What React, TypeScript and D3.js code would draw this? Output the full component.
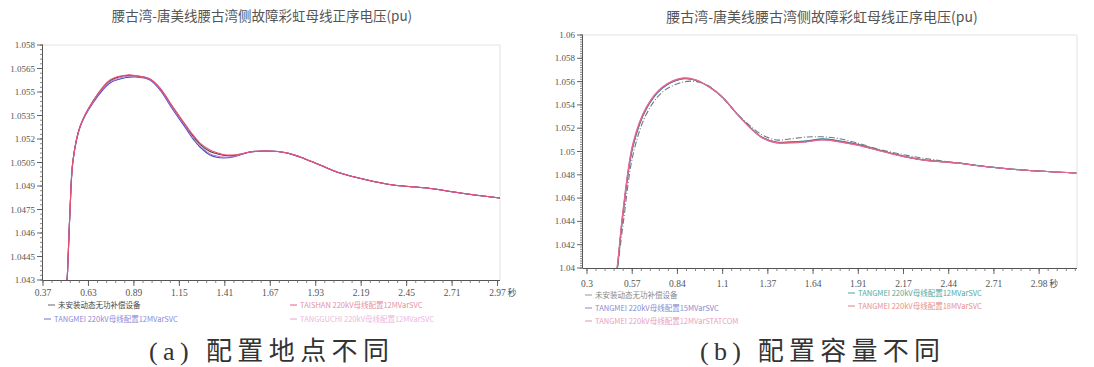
import React from 'react';
import * as d3 from 'd3';

const TITLE = '腰古湾-唐美线腰古湾侧故障彩虹母线正序电压(pu)';

// ---------- Chart (a) data ----------
const A_TIME = [0.495, 0.507, 0.513, 0.524, 0.542, 0.582, 0.656, 0.753, 0.851, 0.896, 0.982, 1.039, 1.114, 1.194, 1.228, 1.268, 1.325, 1.370, 1.400, 1.457, 1.497, 1.554, 1.651, 1.766, 1.840, 1.954, 2.069, 2.224, 2.372, 2.567, 2.756, 2.984];
const A_NONE = [1.04236, 1.0430, 1.04428, 1.04728, 1.05066, 1.0528, 1.05440, 1.05572, 1.05605, 1.05603, 1.05582, 1.05522, 1.05398, 1.05270, 1.05218, 1.05166, 1.05120, 1.05104, 1.05096, 1.05094, 1.05102, 1.05117, 1.05123, 1.05111, 1.05085, 1.05034, 1.04983, 1.04938, 1.04906, 1.04887, 1.04855, 1.04823];
const A_TANGMEI = [1.04236, 1.0430, 1.04428, 1.04728, 1.05066, 1.05277, 1.05430, 1.05557, 1.05593, 1.05596, 1.05577, 1.05513, 1.05385, 1.05257, 1.05200, 1.05149, 1.05098, 1.05082, 1.05079, 1.05085, 1.05098, 1.05117, 1.05123, 1.05111, 1.05085, 1.05034, 1.04983, 1.04938, 1.04906, 1.04887, 1.04855, 1.04823];
const A_TAISHAN = [1.04236, 1.0430, 1.04428, 1.04728, 1.05066, 1.05280, 1.05443, 1.05577, 1.05609, 1.05605, 1.05583, 1.05526, 1.05404, 1.05277, 1.05226, 1.05174, 1.05130, 1.05111, 1.05101, 1.05098, 1.05104, 1.05117, 1.05123, 1.05111, 1.05085, 1.05034, 1.04983, 1.04938, 1.04906, 1.04887, 1.04855, 1.04823];
const A_TANGGUCHI = [1.04236, 1.0430, 1.0443, 1.0473, 1.05068, 1.05279, 1.05435, 1.05565, 1.05600, 1.05600, 1.05580, 1.05518, 1.05392, 1.05265, 1.05208, 1.05158, 1.05106, 1.05090, 1.05085, 1.05088, 1.05100, 1.05118, 1.05124, 1.05112, 1.05086, 1.05035, 1.04984, 1.04939, 1.04907, 1.04887, 1.04856, 1.04823];
const A_XTICKS = [0.37, 0.63, 0.89, 1.15, 1.41, 1.67, 1.93, 2.19, 2.45, 2.71, 2.97];
const A_XLABELS = ['0.37', '0.63', '0.89', '1.15', '1.41', '1.67', '1.93', '2.19', '2.45', '2.71', '2.97'];
const A_YTICKS = [1.043, 1.0445, 1.046, 1.0475, 1.049, 1.0505, 1.052, 1.0535, 1.055, 1.0565, 1.058];
const A_YLABELS = ['1.043', '1.0445', '1.046', '1.0475', '1.049', '1.0505', '1.052', '1.0535', '1.055', '1.0565', '1.058'];
const A_NAMES = ['未安装动态无功补偿设备', 'TANGMEI 220kV母线配置12MVarSVC', 'TAISHAN 220kV母线配置12MVarSVC', 'TANGGUCHI 220kV母线配置12MVarSVC'];

// ---------- Chart (b) data ----------
const B_TIME = [0.46, 0.4775, 0.513, 0.572, 0.651, 0.746, 0.864, 0.947, 1.024, 1.101, 1.183, 1.260, 1.337, 1.420, 1.497, 1.598, 1.692, 1.793, 1.893, 2.012, 2.130, 2.284, 2.485, 2.680, 2.876, 3.195];
const B_NONE = [1.0382, 1.0397, 1.0437, 1.0497, 1.0532, 1.0551, 1.05595, 1.05600, 1.05560, 1.05462, 1.05330, 1.05227, 1.05142, 1.05099, 1.05107, 1.05124, 1.05126, 1.05110, 1.05075, 1.05025, 1.04985, 1.04944, 1.04903, 1.04868, 1.04841, 1.04815];
const B_SVC15 = [1.0383, 1.0398, 1.04470, 1.05050, 1.05370, 1.05546, 1.05625, 1.05611, 1.05553, 1.05467, 1.05331, 1.05213, 1.05120, 1.05079, 1.05079, 1.05088, 1.05104, 1.05088, 1.05061, 1.05017, 1.04973, 1.04929, 1.04902, 1.04867, 1.04841, 1.04815];
const B_STATCOM = [1.0385, 1.0400, 1.04498, 1.05073, 1.05382, 1.05554, 1.05631, 1.05614, 1.05554, 1.05468, 1.05330, 1.05210, 1.05116, 1.05073, 1.05073, 1.05082, 1.05099, 1.05082, 1.05056, 1.05013, 1.04970, 1.04927, 1.04901, 1.04867, 1.04841, 1.04815];
const B_SVC12 = [1.0382, 1.0397, 1.04460, 1.05040, 1.05365, 1.05543, 1.05622, 1.05610, 1.05553, 1.05466, 1.05331, 1.05215, 1.05123, 1.05082, 1.05083, 1.05092, 1.05108, 1.05091, 1.05064, 1.05019, 1.04975, 1.04930, 1.04903, 1.04868, 1.04841, 1.04815];
const B_SVC18 = [1.0384, 1.0399, 1.04480, 1.05060, 1.05375, 1.05550, 1.05628, 1.05612, 1.05553, 1.05467, 1.05330, 1.05211, 1.05118, 1.05076, 1.05076, 1.05085, 1.05101, 1.05085, 1.05059, 1.05015, 1.04972, 1.04928, 1.04902, 1.04867, 1.04841, 1.04815];
const B_XTICKS = [0.3, 0.5675, 0.835, 1.1025, 1.37, 1.6375, 1.905, 2.1725, 2.44, 2.7075, 2.975];
const B_XLABELS = ['0.3', '0.57', '0.84', '1.1', '1.37', '1.64', '1.91', '2.17', '2.44', '2.71', '2.98'];
const B_YTICKS = [1.04, 1.042, 1.044, 1.046, 1.048, 1.05, 1.052, 1.054, 1.056, 1.058, 1.06];
const B_YLABELS = ['1.04', '1.042', '1.044', '1.046', '1.048', '1.05', '1.052', '1.054', '1.056', '1.058', '1.06'];
const B_NAMES = ['未安装动态无功补偿设备', 'TANGMEI 220kV母线配置15MVarSVC', 'TANGMEI 220kV母线配置12MVarSTATCOM', 'TANGMEI 220kV母线配置12MVarSVC', 'TANGMEI 220kV母线配置18MVarSVC'];

const CAPTIONS = ['(a) 配置地点不同', '(b) 配置容量不同'];

type Series = { values: number[]; color: string; dash?: string; width?: number };
type Legend = { name: string; color: string; x: number; y: number; text: string };

type Cfg = {
  id: string;
  left: number; right: number; top: number; bottom: number;
  xDomain: [number, number]; yDomain: [number, number];
  time: number[];
  series: Series[];
  xTicks: number[]; xLabels: string[]; xMinorN: number;
  yTicks: number[]; yLabels: string[]; yMinorN: number;
  xLabelY: number;
  titleX: number; titleY: number; titleSize: number;
  legend: Legend[];
};

const SERIF = "'Liberation Serif', 'Times New Roman', serif";
const CJK = "'Noto Sans CJK SC', sans-serif";

function Panel({ cfg }: { cfg: Cfg }) {
  const x = d3.scaleLinear().domain(cfg.xDomain).range([cfg.left, cfg.right]);
  const y = d3.scaleLinear().domain(cfg.yDomain).range([cfg.bottom, cfg.top]);
  const lineGen = d3
    .line<number>()
    .x((_, i) => x(cfg.time[i]))
    .y((d) => y(d))
    .curve(d3.curveCatmullRom.alpha(0.5));

  const xMinor: number[] = [];
  const xs = (cfg.xTicks[1] - cfg.xTicks[0]) / cfg.xMinorN;
  for (let v = cfg.xTicks[0]; v <= cfg.xDomain[1] + 1e-9; v += xs) xMinor.push(v);
  const yMinor: number[] = [];
  const ys = (cfg.yTicks[1] - cfg.yTicks[0]) / cfg.yMinorN;
  for (let v = cfg.yTicks[0]; v <= cfg.yDomain[1] + 1e-9; v += ys) yMinor.push(v);

  const last = cfg.xTicks.length - 1;

  return (
    <g>
      <defs>
        <clipPath id={`clip-${cfg.id}`}>
          <rect x={cfg.left} y={cfg.top} width={cfg.right - cfg.left} height={cfg.bottom - cfg.top} />
        </clipPath>
      </defs>
      <text x={cfg.titleX} y={cfg.titleY} textAnchor="middle" fontFamily={CJK} fontSize={cfg.titleSize} fill="#555">
        {TITLE}
      </text>
      <line x1={cfg.left} x2={cfg.right} y1={cfg.top} y2={cfg.top} stroke="#e2e2e2" />
      <line x1={cfg.right} x2={cfg.right} y1={cfg.top} y2={cfg.bottom} stroke="#e2e2e2" />
      <g clipPath={`url(#clip-${cfg.id})`}>
        {cfg.series.map((s, i) => (
          <path
            key={i}
            d={lineGen(s.values) || ''}
            fill="none"
            stroke={s.color}
            strokeWidth={s.width ?? 1.1}
            strokeDasharray={s.dash}
            strokeLinejoin="round"
          />
        ))}
      </g>
      <line x1={cfg.left} x2={cfg.right} y1={cfg.bottom + 0.5} y2={cfg.bottom + 0.5} stroke="#555" />
      <line x1={cfg.left - 0.5} x2={cfg.left - 0.5} y1={cfg.top} y2={cfg.bottom} stroke="#555" />
      {xMinor.map((v, i) => (
        <line key={'xm' + i} x1={x(v)} x2={x(v)} y1={cfg.bottom} y2={cfg.bottom + 3} stroke="#666" strokeWidth={0.8} />
      ))}
      {cfg.xTicks.map((v, i) => (
        <line key={'xt' + i} x1={x(v)} x2={x(v)} y1={cfg.bottom} y2={cfg.bottom + 6} stroke="#555" strokeWidth={0.9} />
      ))}
      {yMinor.map((v, i) => (
        <line key={'ym' + i} x1={cfg.left - 3} x2={cfg.left} y1={y(v)} y2={y(v)} stroke="#666" strokeWidth={0.8} />
      ))}
      {cfg.yTicks.map((v, i) => (
        <line key={'yt' + i} x1={cfg.left - 6} x2={cfg.left} y1={y(v)} y2={y(v)} stroke="#555" strokeWidth={0.9} />
      ))}
      {cfg.yTicks.map((v, i) => (
        <text key={'yl' + i} x={cfg.left - 8} y={y(v) + 3} textAnchor="end" fontFamily={SERIF} fontSize={9} fill="#555">
          {cfg.yLabels[i]}
        </text>
      ))}
      {cfg.xTicks.map((v, i) => (
        <text key={'xl' + i} x={x(v)} y={cfg.xLabelY} textAnchor="middle" fontFamily={SERIF} fontSize={9.5} fill="#555">
          {cfg.xLabels[i]}
        </text>
      ))}
      <text x={x(cfg.xTicks[last]) + 10} y={cfg.xLabelY} fontFamily={CJK} fontSize={9} fill="#555">
        秒
      </text>
      {cfg.legend.map((l, i) => (
        <g key={'lg' + i}>
          <line x1={l.x} x2={l.x + 7} y1={l.y - 3} y2={l.y - 3} stroke={l.color} strokeWidth={1} />
          <text x={l.x + 10} y={l.y} fontFamily={CJK} fontSize={7.5} fill={l.text}>
            {l.name}
          </text>
        </g>
      ))}
    </g>
  );
}

export default function App() {
  const cfgA: Cfg = {
    id: 'a',
    left: 43, right: 500, top: 45, bottom: 280,
    xDomain: [0.37, 2.984], yDomain: [1.043, 1.058],
    time: A_TIME,
    series: [
      { values: A_NONE, color: '#444444' },
      { values: A_TANGMEI, color: '#4a4ac8' },
      { values: A_TANGGUCHI, color: '#c870c0', width: 1 },
      { values: A_TAISHAN, color: '#e8506e' },
    ],
    xTicks: A_XTICKS, xLabels: A_XLABELS, xMinorN: 5,
    yTicks: A_YTICKS, yLabels: A_YLABELS, yMinorN: 5,
    xLabelY: 296,
    titleX: 262, titleY: 21, titleSize: 13.5,
    legend: [
      { name: A_NAMES[0], color: '#666', x: 48, y: 308, text: '#444' },
      { name: A_NAMES[1], color: '#7070d0', x: 44, y: 322, text: '#8a8ad8' },
      { name: A_NAMES[2], color: '#e06080', x: 290, y: 308, text: '#e590a8' },
      { name: A_NAMES[3], color: '#e0a0d8', x: 290, y: 322, text: '#ebb8e0' },
    ],
  };
  const cfgB: Cfg = {
    id: 'b',
    left: 583, right: 1077, top: 35, bottom: 268,
    xDomain: [0.2763, 3.199], yDomain: [1.04, 1.06],
    time: B_TIME,
    series: [
      { values: B_SVC12, color: '#2aa198' },
      { values: B_SVC15, color: '#6a5acd' },
      { values: B_SVC18, color: '#e06060' },
      { values: B_NONE, color: '#777777', dash: '6,2,1,2' },
      { values: B_STATCOM, color: '#e36a9a' },
    ],
    xTicks: B_XTICKS, xLabels: B_XLABELS, xMinorN: 5,
    yTicks: B_YTICKS, yLabels: B_YLABELS, yMinorN: 10,
    xLabelY: 287,
    titleX: 822, titleY: 22, titleSize: 14,
    legend: [
      { name: B_NAMES[0], color: '#999', x: 585, y: 298, text: '#888' },
      { name: B_NAMES[1], color: '#8888cc', x: 585, y: 311, text: '#8a8ad0' },
      { name: B_NAMES[2], color: '#e890b8', x: 585, y: 324, text: '#eaa0c0' },
      { name: B_NAMES[3], color: '#40a8a0', x: 848, y: 296, text: '#50aaa2' },
      { name: B_NAMES[4], color: '#e08080', x: 848, y: 309, text: '#e49090' },
    ],
  };

  const capFont = "'Liberation Serif', 'Noto Sans CJK SC', serif";
  return (
    <svg width={1094} height={367} style={{ position: 'absolute', left: 0, top: 0, background: '#fff' }}>
      <rect x={0} y={0} width={1094} height={367} fill="#fff" />
      <Panel cfg={cfgA} />
      <Panel cfg={cfgB} />
      <text x={269} y={360} textAnchor="middle" fontFamily={capFont} fontSize={26} fill="#333" textLength={240} lengthAdjust="spacing">
        {CAPTIONS[0]}
      </text>
      <text x={820} y={360} textAnchor="middle" fontFamily={capFont} fontSize={26} fill="#333" textLength={240} lengthAdjust="spacing">
        {CAPTIONS[1]}
      </text>
    </svg>
  );
}
